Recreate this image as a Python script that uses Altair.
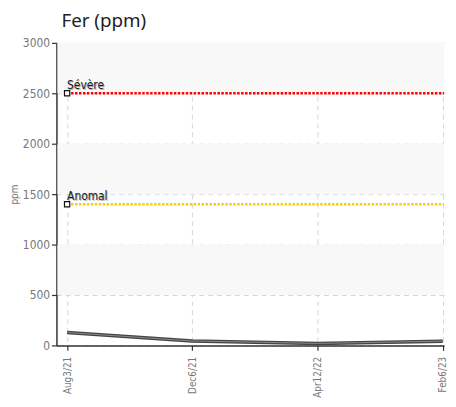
import altair as alt
import pandas as pd

dates = ["Aug3/21", "Dec6/21", "Apr12/22", "Feb6/23"]
values = [128, 44, 20, 42]
threshold_names = ["Sévère", "Anomal"]
threshold_values = [2500, 1400]
threshold_colors = ["#ff0000", "#ffcc00"]
band_starts = [500, 1500, 2500]
band_ends = [1000, 2000, 3000]

W, H = 392, 306
X_DOMAIN = [-0.085, 3.01]
FONT = "DejaVu Sans Condensed, Roboto, sans-serif"

series = pd.DataFrame({"idx": list(range(len(dates))), "date": dates, "value": values})
thr = pd.DataFrame({"name": threshold_names, "value": threshold_values,
                    "color": threshold_colors, "x0": 0, "x1": X_DOMAIN[1]})
bands = pd.DataFrame({"y0": band_starts, "y1": band_ends})

label_expr = "[" + ",".join(f"'{d}'" for d in dates) + "][datum.value]"

xscale = alt.Scale(domain=X_DOMAIN, nice=False, zero=False)
yscale = alt.Scale(domain=[0, 3000], nice=False)

base_x = alt.X("idx:Q", scale=xscale, title=None,
               axis=alt.Axis(values=[0, 1, 2, 3], labelExpr=label_expr, labelAngle=-90,
                             labelAlign="right", labelBaseline="middle", labelFont=FONT,
                             labelFontSize=10, labelColor="#777", labelPadding=6,
                             grid=True, gridColor="#d6d6d6", gridDash=[5, 4], gridWidth=1,
                             domainColor="#333", domainWidth=1.5, tickColor="#333",
                             tickSize=5, tickWidth=1.2))

bg = alt.Chart(bands).mark_rect(color="#f8f8f8").encode(
    x=alt.value(1), x2=alt.value(W),
    y=alt.Y("y0:Q", scale=yscale, title="ppm",
            axis=alt.Axis(values=[0, 500, 1000, 1500, 2000, 2500, 3000], format="d",
                          labelFont=FONT, labelFontSize=12, labelColor="#777",
                          labelPadding=2,
                          grid=True, gridColor="#d6d6d6", gridDash=[5, 4], gridWidth=1,
                          domainColor="#333", domainWidth=1.5, tickColor="#333",
                          tickSize=5, tickWidth=1.2, titleFont=FONT,
                          titleFontSize=10, titleFontWeight="normal", titleColor="#777",
                          titleX=-37, titleY=H / 2, titleAngle=270,
                          titleAlign="center", titleBaseline="bottom")),
    y2="y1:Q",
)

line_dark = alt.Chart(series).mark_line(color="#444", strokeWidth=3.5).encode(
    x=base_x, y=alt.Y("value:Q", scale=yscale))
line_light = alt.Chart(series).mark_line(color="#8a8a8a", strokeWidth=1).encode(
    x=alt.X("idx:Q", scale=xscale), y=alt.Y("value:Q", scale=yscale))

thr_lines = alt.Chart(thr).mark_rule(strokeWidth=2.5, strokeDash=[2.5, 1.5]).encode(
    x=alt.X("x0:Q", scale=xscale), x2="x1:Q",
    y=alt.Y("value:Q", scale=yscale),
    color=alt.Color("color:N", scale=None))

thr_pts = alt.Chart(thr).mark_point(shape="square", filled=True, fill="white",
                                    stroke="#111", strokeWidth=1.2, size=28, opacity=1).encode(
    x=alt.X("x0:Q", scale=xscale), y=alt.Y("value:Q", scale=yscale))

thr_shadow = alt.Chart(thr).mark_text(align="left", baseline="alphabetic", dx=1, dy=-3,
                                      font=FONT, fontSize=12, fontWeight="normal",
                                      color="#b0b0b0").encode(
    x=alt.X("x0:Q", scale=xscale), y=alt.Y("value:Q", scale=yscale), text="name:N")
thr_text = alt.Chart(thr).mark_text(align="left", baseline="alphabetic", dx=0, dy=-4,
                                    font=FONT, fontSize=12, fontWeight="normal",
                                    color="#1a1a1a").encode(
    x=alt.X("x0:Q", scale=xscale), y=alt.Y("value:Q", scale=yscale), text="name:N")

chart = alt.layer(bg, thr_lines, line_dark, line_light, thr_pts, thr_shadow, thr_text).properties(
    width=W, height=H,
    autosize=alt.AutoSizeParams(type="none"),
    padding={"left": 49, "top": 33, "right": 4, "bottom": 58},
    title=alt.TitleParams("Fer (ppm)", anchor="start", frame="group", dx=5, offset=6,
                          font="Noto Sans", fontSize=19, fontWeight="normal", color="#222"),
).configure_view(stroke=None)

chart.save("out.html", embed_options={"renderer": "svg", "actions": False})
